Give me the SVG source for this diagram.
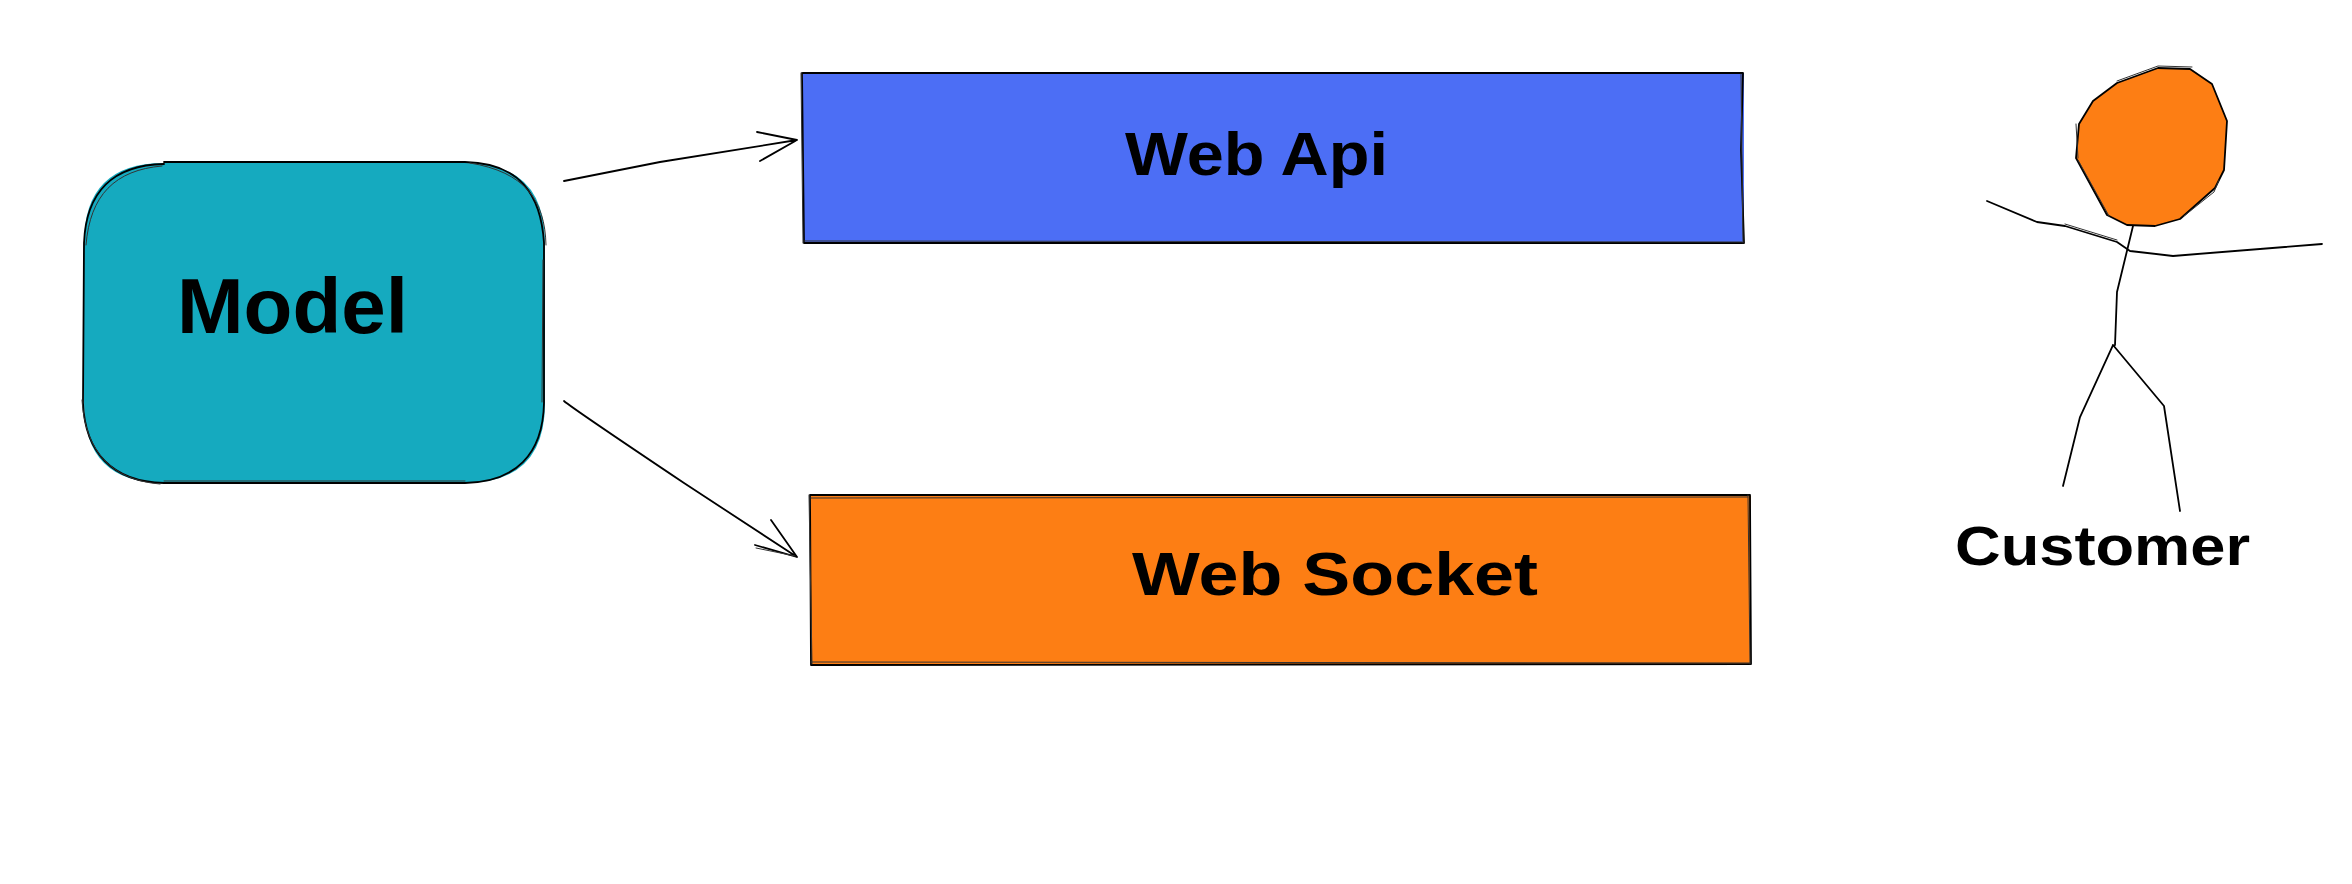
<svg xmlns="http://www.w3.org/2000/svg" width="2352" height="884" viewBox="0 0 2352 884">
<style>
.s{fill:none;stroke:#000;stroke-width:1.8;stroke-linecap:round;stroke-linejoin:round}
.t{fill:none;stroke:#333;stroke-width:1;stroke-linecap:round;stroke-linejoin:round}
.l{font-family:"Liberation Sans",Arial,sans-serif;font-weight:700;fill:#000}
</style>
<rect width="2352" height="884" fill="#fff"/>
<g id="connectors">
<path class="s" d="M564 181L660 162L797 140M757 132L797 140L760 161"/>
<path class="s" d="M564 401Q572 408 684 483L797 557M771 520L797 557L755 545"/>
<path class="t" d="M756 548L795 556"/>
</g>
<g id="model">
<path d="M164 163H465Q545 163 545 243V403Q545 483 465 483H164Q84 483 84 403V243Q84 163 164 163Z" fill="#15aabf"/>
<path class="s" d="M164 162H465C520 163 541 195 544 243V403C543 455 515 482 465 483H164C112 482 85 452 83 403L84 243C86 192 113 165 164 164"/>
<path class="t" d="M162 166C115 170 90 195 86 245M546 245C545 200 525 172 470 163M82 400C85 450 110 480 160 484M164 481H465M543 260L542 402"/>
<text class="l" x="177" y="333" font-size="78" textLength="231" lengthAdjust="spacingAndGlyphs">Model</text>
</g>
<g id="web-api">
<rect x="803" y="73" width="941" height="170" fill="#4c6ef5"/>
<path class="s" d="M803 73L1743 73L1741 150L1744 243L804 243L802 73"/>
<path class="t" d="M801 73L803 243M1741 74L1743 243M804 241L1742 242"/>
<text class="l" x="1125" y="175" font-size="62" textLength="263" lengthAdjust="spacingAndGlyphs">Web Api</text>
</g>
<g id="web-socket">
<rect x="811" y="496" width="940" height="168" fill="#fd7e14"/>
<path class="s" d="M810 495L1750 495L1751 664L811 665L810 495"/>
<path class="t" d="M809 495L812 664M811 498L1748 497M1748 495L1750 664M811 662L1750 663"/>
<text class="l" x="1132" y="595" font-size="62" textLength="406" lengthAdjust="spacingAndGlyphs">Web Socket</text>
</g>
<g id="customer">
<path d="M2158 68L2190 69L2212 84L2227 121L2224 170L2215 188L2180 219L2155 226L2127 225L2107 215L2076 158L2079 124L2093 101L2117 83Z" fill="#fd7e14"/>
<path class="s" d="M2158 68L2190 69L2212 84L2227 121L2224 170L2215 188L2180 219L2155 226L2127 225L2107 215L2076 158L2079 124L2093 101L2117 83Z"/>
<path class="t" d="M2117 81L2158 66L2192 67M2078 158L2076 124M2109 216L2078 160M2219 180L2214 192L2184 216"/>
<path class="s" d="M1987 201L2037 222L2065 226L2117 242L2130 251L2173 256L2322 244"/>
<path class="t" d="M2065 224L2117 240"/>
<path class="s" d="M2133 226L2117 292L2115 345M2113 345L2080 417L2063 486M2113 345L2164 406L2180 511"/>
<text class="l" x="1955" y="565" font-size="56" textLength="295" lengthAdjust="spacingAndGlyphs">Customer</text>
</g>
</svg>
